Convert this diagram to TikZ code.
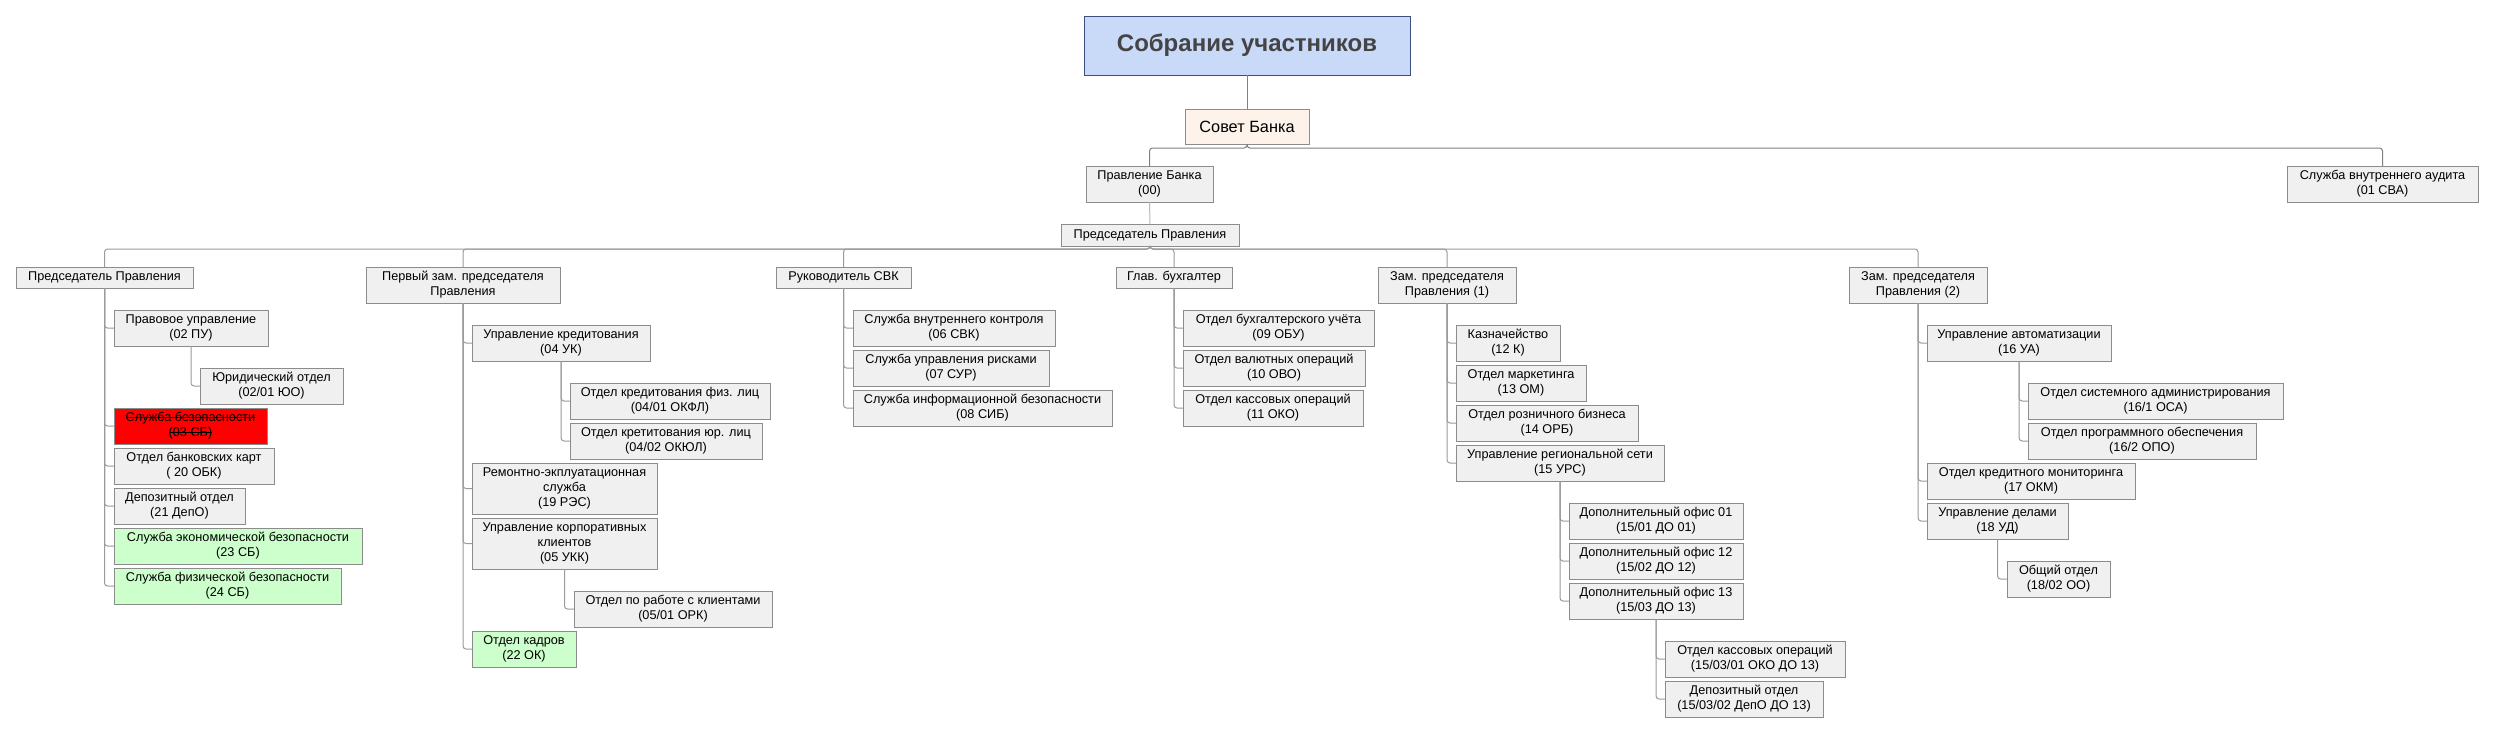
\documentclass[tikz,border=0pt]{standalone}
\usepackage{fontspec}
\setmainfont{Liberation Sans}
\newlength\strikelen
\newcommand\strike[1]{\settowidth\strikelen{#1}\rlap{\rule[0.3em]{\strikelen}{0.8pt}}#1}
\definecolor{boxfill}{HTML}{F0F0F0}
\definecolor{boxline}{HTML}{8C8C8C}
\definecolor{connA}{HTML}{808080}
\definecolor{connB}{HTML}{9A9A9A}
\definecolor{connC}{HTML}{B8B8B8}
\definecolor{topfill}{HTML}{C9DAF8}
\definecolor{topline}{HTML}{3C4F7E}
\definecolor{toptext}{HTML}{444444}
\definecolor{sovetfill}{HTML}{FDF3EA}
\definecolor{greenfill}{HTML}{CCFFCC}
\definecolor{redfill}{HTML}{FF0000}
\newcommand\orgbox[7][]{\node[box,#1,anchor=north west,minimum width={(#5-#3)*1pt},minimum height={(#6-#4)*1pt}] (#2) at (#3,#4) {#7};}
\begin{document}
\begin{tikzpicture}[x=1pt,y=-1pt,
  box/.style={draw=boxline,fill=boxfill,line width=1pt,inner sep=1pt,outer sep=0pt,align=center,
     font=\fontsize{12.7}{14.9}\selectfont,text=black},
  green/.style={fill=greenfill},
  red/.style={fill=redfill},
  conn/.style={draw=connB,line width=1pt,rounded corners=3pt},
  connTop/.style={draw=connA,line width=1pt,rounded corners=3pt},
  connLight/.style={draw=connC,line width=1pt}]
\useasboundingbox (0,0) rectangle (2494,734);
% top
\orgbox[draw=topline,fill=topfill,font=\fontsize{24}{28}\bfseries\selectfont,text=toptext]{sobr}{1084}{16}{1410}{75}{Собрание участников}
\orgbox[fill=sovetfill,font=\fontsize{16.3}{19}\selectfont]{sovet}{1185}{109}{1309}{144}{Совет Банка}
\orgbox{pravl}{1086}{166}{1213}{202}{Правление Банка\\(00)}
\orgbox{sva}{2287}{166}{2478}{202}{Служба внутреннего аудита\\(01 СВА)}
\orgbox{pred}{1061}{224}{1239}{246}{Председатель Правления}
% heads
\orgbox{h1}{16}{267}{193}{288}{Председатель Правления}
\orgbox{h2}{366}{267}{560}{303}{Первый зам. председателя\\Правления}
\orgbox{h3}{776}{267}{911}{288}{Руководитель СВК}
\orgbox{h4}{1116}{267}{1232}{288}{Глав. бухгалтер}
\orgbox{h5}{1378}{267}{1516}{303}{Зам. председателя\\Правления (1)}
\orgbox{h6}{1849}{267}{1987}{303}{Зам. председателя\\Правления (2)}
% column 1
\orgbox{c11}{114}{310}{268}{346}{Правовое управление\\(02 ПУ)}
\orgbox{c111}{200}{368}{343}{404}{Юридический отдел\\(02/01 ЮО)}
\orgbox[red]{c12}{114}{408}{267}{444}{\strike{Служба безопасности}\\\strike{(03 СБ)}}
\orgbox{c13}{114}{448}{274}{484}{Отдел банковских карт\\( 20 ОБК)}
\orgbox{c14}{114}{488}{245}{524}{Депозитный отдел\\(21 ДепО)}
\orgbox[green]{c15}{114}{528}{362}{564}{Служба экономической безопасности\\(23 СБ)}
\orgbox[green]{c16}{114}{568}{341}{604}{Служба физической безопасности\\(24 СБ)}
% column 2
\orgbox{c21}{472}{325}{650}{361}{Управление кредитования\\(04 УК)}
\orgbox{c211}{570}{383}{770}{419}{Отдел кредитования физ. лиц\\(04/01 ОКФЛ)}
\orgbox{c212}{570}{423}{762}{459}{Отдел кретитования юр. лиц\\(04/02 ОКЮЛ)}
\orgbox{c22}{472}{463}{657}{514}{Ремонтно-экплуатационная\\служба\\(19 РЭС)}
\orgbox{c23}{472}{518}{657}{569}{Управление корпоративных\\клиентов\\(05 УКК)}
\orgbox{c231}{574}{591}{772}{627}{Отдел по работе с клиентами\\(05/01 ОРК)}
\orgbox[green]{c24}{472}{631}{576}{667}{Отдел кадров\\(22 ОК)}
% column 3
\orgbox{c31}{853}{310}{1055}{346}{Служба внутреннего контроля\\(06 СВК)}
\orgbox{c32}{853}{350}{1049}{386}{Служба управления рисками\\(07 СУР)}
\orgbox{c33}{853}{390}{1112}{426}{Служба информационной безопасности\\(08 СИБ)}
% column 4
\orgbox{c41}{1183}{310}{1374}{346}{Отдел бухгалтерского учёта\\(09 ОБУ)}
\orgbox{c42}{1183}{350}{1365}{386}{Отдел валютных операций\\(10 ОВО)}
\orgbox{c43}{1183}{390}{1363}{426}{Отдел кассовых операций\\(11 ОКО)}
% column 5
\orgbox{c51}{1456}{325}{1560}{361}{Казначейство\\(12 К)}
\orgbox{c52}{1456}{365}{1586}{401}{Отдел маркетинга\\(13 ОМ)}
\orgbox{c53}{1456}{405}{1638}{441}{Отдел розничного бизнеса\\(14 ОРБ)}
\orgbox{c54}{1456}{445}{1664}{481}{Управление региональной сети\\(15 УРС)}
\orgbox{c541}{1569}{503}{1743}{539}{Дополнительный офис 01\\(15/01 ДО 01)}
\orgbox{c542}{1569}{543}{1743}{579}{Дополнительный офис 12\\(15/02 ДО 12)}
\orgbox{c543}{1569}{583}{1743}{619}{Дополнительный офис 13\\(15/03 ДО 13)}
\orgbox{c5431}{1665}{641}{1845}{677}{Отдел кассовых операций\\(15/03/01 ОКО ДО 13)}
\orgbox{c5432}{1665}{681}{1823}{717}{Депозитный отдел\\(15/03/02 ДепО ДО 13)}
% column 6
\orgbox{c61}{1927}{325}{2111}{361}{Управление автоматизации\\(16 УА)}
\orgbox{c611}{2028}{383}{2283}{419}{Отдел системного администрирования\\(16/1 ОСА)}
\orgbox{c612}{2028}{423}{2256}{459}{Отдел программного обеспечения\\(16/2 ОПО)}
\orgbox{c62}{1927}{463}{2135}{499}{Отдел кредитного мониторинга\\(17 ОКМ)}
\orgbox{c63}{1927}{503}{2068}{539}{Управление делами\\(18 УД)}
\orgbox{c631}{2007}{561}{2110}{597}{Общий отдел\\(18/02 ОО)}
% connectors top
\draw[connTop] (sobr.south) -- (sovet.north);
\draw[connTop] (sovet.south) -- ++(0,4) -| (pravl.north);
\draw[connTop] (sovet.south) -- ++(0,4) -| (sva.north);
\draw[connLight] (pravl.south) -- (pred.north);
\foreach \h in {h1,h2,h3,h4,h5,h6}
  \draw[conn] (pred.south) -- ++(0,3) -| (\h.north);
% children
\foreach \p/\c in {h1/c11,c11/c111,h1/c12,h1/c13,h1/c14,h1/c15,h1/c16,
  h2/c21,c21/c211,c21/c212,h2/c22,h2/c23,c23/c231,h2/c24,
  h3/c31,h3/c32,h3/c33,h4/c41,h4/c42,h4/c43,
  h5/c51,h5/c52,h5/c53,h5/c54,c54/c541,c54/c542,c54/c543,c543/c5431,c543/c5432,
  h6/c61,c61/c611,c61/c612,h6/c62,h6/c63,c63/c631}
  \draw[conn] (\p.south) |- (\c.west);
\end{tikzpicture}
\end{document}
